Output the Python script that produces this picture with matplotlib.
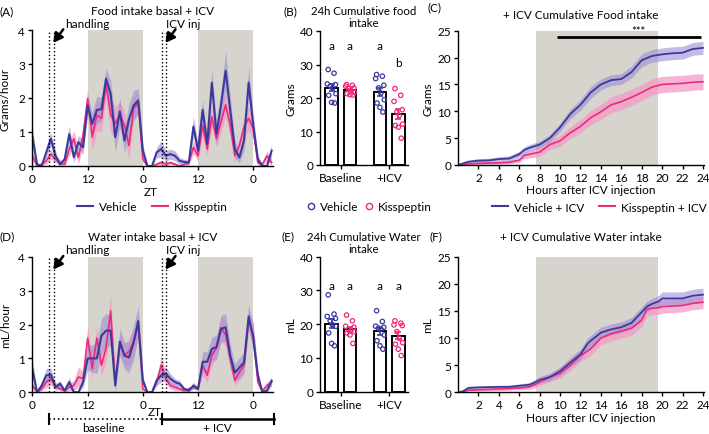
import matplotlib
matplotlib.use('Agg')
import matplotlib.pyplot as plt
import matplotlib.transforms as mtransforms
from matplotlib.lines import Line2D
import numpy as np

plt.rcParams['font.family'] = ['Lato', 'DejaVu Sans']

BLUE = '#3b3a9c'
PINK = '#ee2a7b'
BLUE_BAND = '#9c8fd4'
PINK_BAND = '#f49ac6'
GRAY = '#d6d4cc'

# ---- hourly intake (A, D) ----
hours = np.arange(53)
zt_ticks = [0, 12, 24, 36, 48]
zt_labels = ['0', '12', '0', '12', '0']

veh_food = [0.85, 0.05, 0.0, 0.4, 0.8, 0.3, 0.05, 0.2, 0.94, 0.26, 0.7, 0.55,
            1.78, 1.24, 1.65, 1.67, 2.57, 2.12, 0.85, 1.6, 0.75, 1.38, 1.78, 1.93,
            0.45, 0.0, 0.0, 0.4, 0.5, 0.3, 0.35, 0.3, 0.15, 0.12, 0.1, 1.16,
            0.45, 1.65, 0.65, 2.45, 0.95, 1.8, 2.8, 1.65, 0.5, 0.25, 0.75, 2.45,
            1.2, 0.2, 0.0, 0.0, 0.45]
veh_food_sem = [0.3, 0.05, 0.02, 0.15, 0.2, 0.15, 0.05, 0.1, 0.25, 0.15, 0.2, 0.2,
                0.3, 0.35, 0.4, 0.35, 0.3, 0.4, 0.45, 0.4, 0.35, 0.45, 0.45, 0.35,
                0.2, 0.02, 0.02, 0.15, 0.25, 0.15, 0.15, 0.15, 0.1, 0.08, 0.08, 0.3,
                0.2, 0.3, 0.25, 0.4, 0.35, 0.4, 0.6, 0.4, 0.25, 0.15, 0.3, 0.45,
                0.35, 0.15, 0.02, 0.05, 0.2]
kis_food = [0.3, 0.0, 0.05, 0.15, 0.35, 0.2, 0.1, 0.05, 0.5, 0.8, 0.25, 0.9,
            1.98, 0.85, 1.5, 1.4, 2.4, 1.5, 1.25, 1.5, 1.2, 0.6, 1.7, 1.85,
            0.2, 0.0, 0.0, 0.05, 0.1, 0.05, 0.1, 0.05, 0.0, 0.05, 0.1, 0.55,
            0.3, 1.2, 0.5, 1.45, 0.8, 1.3, 1.8, 1.2, 0.3, 0.6, 1.15, 1.4,
            1.1, 0.1, 0.05, 0.3, 0.1]
kis_food_sem = [0.15, 0.05, 0.05, 0.1, 0.15, 0.1, 0.1, 0.05, 0.2, 0.25, 0.2, 0.3,
                0.3, 0.4, 0.45, 0.4, 0.4, 0.5, 0.5, 0.4, 0.4, 0.4, 0.35, 0.3,
                0.1, 0.02, 0.02, 0.05, 0.08, 0.05, 0.05, 0.05, 0.02, 0.05, 0.05, 0.2,
                0.15, 0.3, 0.2, 0.3, 0.25, 0.3, 0.35, 0.3, 0.2, 0.2, 0.3, 0.35,
                0.3, 0.1, 0.05, 0.15, 0.1]

veh_water = [0.67, 0.0, 0.2, 0.5, 0.52, 0.15, 0.25, 0.05, 0.3, 0.0, 0.0, 0.3,
             1.0, 1.0, 1.0, 1.67, 1.82, 1.82, 0.2, 1.5, 1.08, 1.03, 1.47, 2.1,
             0.35, 0.0, 0.0, 0.35, 0.5, 0.55, 0.4, 0.3, 0.25, 0.1, 0.05, 0.2,
             0.1, 0.9, 0.9, 1.28, 1.33, 1.87, 1.92, 1.08, 0.58, 0.73, 0.88, 2.24,
             1.62, 0.5, 0.0, 0.05, 0.34]
veh_water_sem = [0.3, 0.05, 0.1, 0.2, 0.2, 0.1, 0.1, 0.05, 0.15, 0.05, 0.05, 0.15,
                 0.35, 0.4, 0.45, 0.5, 0.5, 0.45, 0.2, 0.4, 0.4, 0.45, 0.5, 0.45,
                 0.15, 0.02, 0.02, 0.15, 0.2, 0.2, 0.15, 0.1, 0.1, 0.05, 0.05, 0.1,
                 0.05, 0.3, 0.3, 0.35, 0.35, 0.4, 0.4, 0.35, 0.25, 0.3, 0.3, 0.35,
                 0.4, 0.2, 0.02, 0.05, 0.15]
kis_water = [0.2, 0.0, 0.1, 0.3, 0.4, 0.2, 0.1, 0.05, 0.15, 0.2, 0.45, 0.4,
             1.6, 0.7, 1.6, 0.8, 1.3, 2.4, 0.3, 1.4, 1.1, 1.2, 1.5, 2.0,
             0.1, 0.0, 0.0, 0.3, 0.8, 0.4, 0.2, 0.15, 0.1, 0.05, 0.1, 0.15,
             0.1, 0.8, 0.5, 1.1, 1.3, 1.9, 1.7, 1.0, 0.35, 0.6, 0.8, 2.1,
             1.7, 0.3, 0.05, 0.2, 0.3]
kis_water_sem = [0.1, 0.02, 0.05, 0.15, 0.2, 0.1, 0.05, 0.05, 0.1, 0.15, 0.3, 0.2,
                 0.35, 0.3, 0.35, 0.3, 0.4, 0.5, 0.15, 0.35, 0.3, 0.4, 0.4, 0.4,
                 0.05, 0.02, 0.02, 0.1, 0.3, 0.15, 0.1, 0.1, 0.05, 0.05, 0.05, 0.05,
                 0.05, 0.3, 0.2, 0.3, 0.3, 0.35, 0.35, 0.3, 0.15, 0.25, 0.25, 0.3,
                 0.35, 0.15, 0.05, 0.1, 0.1]

handling_lines = [3.7, 4.75]
icv_lines = [28.2, 29.1]
dark_phases = [(12, 24), (36, 48)]

# ---- 24h cumulative per animal (B, E) ----
groups = ['Baseline', '+ICV']
food_veh_base = [28.5, 27.4, 24.2, 24.0, 23.5, 23.0, 21.3, 20.8, 18.7, 18.5]
food_kis_base = [24.0, 23.8, 23.5, 23.0, 22.8, 22.0, 21.7, 21.3, 21.0, 20.9]
food_veh_icv = [27.0, 26.5, 25.8, 23.8, 23.0, 21.5, 19.5, 18.5, 17.2, 15.8]
food_kis_icv = [22.8, 20.8, 19.0, 16.5, 15.8, 14.8, 12.2, 11.8, 11.3, 8.0]
food_letters = ['a', 'a', 'a', 'b']
food_letter_y = [35.7, 35.7, 35.7, 30.5]

water_veh_base = [28.7, 23.0, 22.3, 21.7, 21.0, 19.8, 19.4, 17.4, 14.3, 13.6]
water_kis_base = [22.7, 21.0, 19.4, 19.1, 18.4, 18.1, 17.8, 17.4, 16.8, 14.3]
water_veh_icv = [24.0, 20.8, 19.4, 19.1, 18.8, 18.5, 16.8, 15.1, 13.6, 12.6]
water_kis_icv = [21.0, 20.3, 19.8, 19.6, 17.8, 15.8, 14.5, 14.1, 12.6, 10.7]
water_letters = ['a', 'a', 'a', 'a']
water_letter_y = [31.6, 31.6, 31.6, 31.6]

# ---- cumulative after ICV (C, F) ----
t_food = [0, 0.5, 1, 2, 3, 4, 5, 6, 6.5, 7, 8, 9, 10, 11, 12, 13, 14, 15, 16, 17,
          18, 19, 20, 21, 22, 23, 24]
veh_cum_food = [0, 0.3, 0.6, 0.8, 0.85, 1.1, 1.2, 2.0, 2.8, 3.2, 3.8, 5.0, 7.0, 9.5,
                11.2, 13.5, 15.0, 15.8, 16.0, 17.3, 19.5, 20.3, 20.6, 20.8, 20.9, 21.6, 21.8]
veh_cum_food_sem = [0, 0.2, 0.3, 0.4, 0.4, 0.45, 0.5, 0.55, 0.6, 0.6, 0.65, 0.7, 0.8, 0.9,
                    1.0, 1.1, 1.0, 1.0, 1.0, 1.1, 1.2, 1.2, 1.2, 1.2, 1.2, 1.2, 1.2]
kis_cum_food = [0, 0.1, 0.2, 0.3, 0.35, 0.4, 0.5, 0.9, 1.8, 2.0, 2.4, 3.8, 4.5, 6.0,
                7.2, 8.8, 9.9, 11.2, 11.8, 12.6, 13.5, 14.5, 15.0, 15.1, 15.2, 15.4, 15.5]
kis_cum_food_sem = [0, 0.1, 0.15, 0.2, 0.2, 0.25, 0.3, 0.4, 0.6, 0.7, 0.8, 0.9, 1.0, 1.1,
                    1.2, 1.3, 1.4, 1.5, 1.5, 1.5, 1.5, 1.5, 1.5, 1.5, 1.5, 1.5, 1.5]

t_water = [0, 0.5, 1, 2, 4, 5, 6, 7, 7.5, 8, 9, 10, 11, 12, 12.7, 13, 14, 15, 16, 17,
           18, 18.5, 19, 19.7, 20, 21, 22, 23, 24]
veh_cum_water = [0, 0.2, 0.8, 0.9, 1.0, 1.0, 1.2, 1.4, 1.8, 2.3, 2.8, 3.9, 5.5, 7.0, 9.0,
                 9.5, 11.0, 11.6, 12.0, 12.8, 14.8, 15.8, 16.3, 16.8, 17.3, 17.3, 17.3, 17.8, 18.0]
veh_cum_water_sem = [0, 0.1, 0.3, 0.3, 0.3, 0.3, 0.35, 0.4, 0.5, 0.6, 0.7, 0.8, 0.9, 1.0, 1.0,
                     1.0, 1.0, 1.0, 1.0, 1.0, 1.0, 1.0, 1.0, 1.1, 1.2, 1.2, 1.2, 1.2, 1.2]
kis_cum_water = [0, 0.1, 0.4, 0.45, 0.6, 0.7, 0.8, 1.0, 1.4, 1.9, 2.8, 3.5, 5.0, 6.8, 7.6,
                 8.0, 10.0, 10.8, 11.3, 11.8, 13.3, 15.3, 15.5, 15.6, 15.8, 15.9, 16.0, 16.4, 16.6]
kis_cum_water_sem = [0, 0.1, 0.2, 0.2, 0.3, 0.3, 0.35, 0.5, 0.6, 0.7, 0.8, 0.9, 1.0, 1.1, 1.2,
                     1.2, 1.3, 1.3, 1.3, 1.3, 1.3, 1.3, 1.2, 1.2, 1.2, 1.2, 1.2, 1.2, 1.2]
dark_after_icv = (7.6, 19.6)
sig_span = (9.7, 23.8)

FS = 8.5
W, H = 709, 435
fig = plt.figure(figsize=(W / 100, H / 100), dpi=100)


def px_axes(l, t, r, b):
    return fig.add_axes([l / W, 1 - b / H, (r - l) / W, (b - t) / H])


def ftext(x, y, s, **kw):
    fig.text(x / W, 1 - y / H, s, va='center', **kw)


def style(ax):
    for s in ['top', 'right']:
        ax.spines[s].set_visible(False)
    for s in ['left', 'bottom']:
        ax.spines[s].set_linewidth(1.0)
    ax.tick_params(direction='out', length=3, width=1.0, labelsize=8.5, pad=2)


def band(ax, x, y, e, col, alpha):
    y = np.asarray(y)
    e = np.asarray(e)
    ax.fill_between(x, np.clip(y - e, 0, None), y + e, color=col, alpha=alpha, lw=0)


def hourly(ax, veh, veh_sem, kis, kis_sem, ylab):
    for a, b in dark_phases:
        ax.axvspan(a, b, color=GRAY, lw=0, zorder=0)
    band(ax, hours, kis, kis_sem, PINK_BAND, 0.75)
    band(ax, hours, veh, veh_sem, BLUE_BAND, 0.6)
    ax.plot(hours, kis, color=PINK, lw=1.2)
    ax.plot(hours, veh, color=BLUE, lw=1.5)
    for x in handling_lines + icv_lines:
        ax.axvline(x, color='black', ls=':', lw=1.0)
    ax.set_xlim(-0.1, 52.3)
    ax.set_ylim(0, 4)
    ax.set_xticks(zt_ticks)
    ax.set_xticklabels(zt_labels)
    ax.set_yticks([0, 1, 2, 3, 4])
    ax.set_ylabel(ylab, fontsize=FS)
    ax.yaxis.set_label_coords(-0.088, 0.5)
    style(ax)
    arrow = dict(arrowstyle='-|>,head_length=0.55,head_width=0.3', color='black', lw=1.8,
                 mutation_scale=10, shrinkA=0, shrinkB=0)
    ax.annotate('', xy=(4.5, 3.62), xytext=(6.7, 4.02), arrowprops=arrow, annotation_clip=False)
    ax.annotate('', xy=(28.9, 3.62), xytext=(31.1, 4.02), arrowprops=arrow, annotation_clip=False)
    ax.text(7.0, 4.2, 'handling', fontsize=FS, va='center', clip_on=False)
    ax.text(29.1, 4.2, 'ICV inj', fontsize=FS, va='center', clip_on=False)


def bars(ax, data, letters, letter_y, ylab):
    offsets = [-0.19, 0.19]
    jitter = [-0.07, 0.05, -0.09, 0.08, -0.03, 0.02, 0.09, -0.06, 0.0, 0.06]
    cols = [BLUE, PINK]
    for gi in range(2):
        for si in range(2):
            vals = np.asarray(data[gi][si])
            x = gi + offsets[si]
            m = vals.mean()
            sem = vals.std(ddof=1) / np.sqrt(len(vals))
            ax.bar(x, m, width=0.26, facecolor='white', edgecolor='black', lw=1.4, zorder=1)
            ax.scatter(x + np.asarray(jitter), vals, s=10, facecolors='none',
                       edgecolors=cols[si], linewidths=0.9, zorder=2)
            ax.errorbar(x, m, yerr=sem, color=cols[si], capsize=2, lw=1.2, capthick=1.2, zorder=3)
            k = gi * 2 + si
            ax.text(x, letter_y[k], letters[k], ha='center', va='center', fontsize=FS)
    ax.set_xlim(-0.43, 1.39)
    ax.set_ylim(0, 40)
    ax.set_yticks([0, 10, 20, 30, 40])
    ax.set_xticks([0, 1])
    ax.set_xticklabels(groups)
    ax.set_ylabel(ylab, fontsize=FS)
    ax.yaxis.set_label_coords(-0.27, 0.5)
    style(ax)


def cumulative(ax, t, veh, veh_sem, kis, kis_sem, ylab):
    ax.axvspan(*dark_after_icv, color=GRAY, lw=0, zorder=0)
    band(ax, t, kis, kis_sem, PINK_BAND, 0.75)
    band(ax, t, veh, veh_sem, BLUE_BAND, 0.6)
    ax.plot(t, kis, color=PINK, lw=1.2)
    ax.plot(t, veh, color=BLUE, lw=1.3)
    ax.set_xlim(0, 24.1)
    ax.set_ylim(0, 25)
    ax.set_xticks(range(2, 25, 2))
    ax.set_yticks([0, 5, 10, 15, 20, 25])
    ax.set_xlabel('Hours after ICV injection', fontsize=FS, labelpad=1)
    ax.xaxis.label.set_x(0.54)
    ax.set_ylabel(ylab, fontsize=FS)
    ax.yaxis.set_label_coords(-0.1, 0.5)
    style(ax)


def line_legend(ax, labels, anchor):
    ax.legend(handles=[Line2D([], [], color=BLUE, lw=1.5), Line2D([], [], color=PINK, lw=1.5)],
              labels=labels, loc='center', bbox_to_anchor=anchor, ncol=2, frameon=False,
              fontsize=FS, handlelength=1.4, handletextpad=0.5, columnspacing=1.2)


# ---- A ----
axA = px_axes(32, 31, 273, 167)
hourly(axA, veh_food, veh_food_sem, kis_food, kis_food_sem, 'Grams/hour')
axA.text(0.494, -0.19, 'ZT', transform=axA.transAxes, ha='center', va='center', fontsize=FS)
axA.text(0.5, 1.14, 'Food intake basal + ICV', transform=axA.transAxes, ha='center',
         va='center', fontsize=FS)
line_legend(axA, ['Vehicle', 'Kisspeptin'], (0.5, -0.30))

# ---- D ----
axD = px_axes(32, 257.7, 273, 393.3)
hourly(axD, veh_water, veh_water_sem, kis_water, kis_water_sem, 'mL/hour')
axD.text(0.51, -0.14, 'ZT', transform=axD.transAxes, ha='center', va='center', fontsize=FS)
axD.text(0.5, 1.15, 'Water intake basal + ICV', transform=axD.transAxes, ha='center',
         va='center', fontsize=FS)
tr = mtransforms.blended_transform_factory(axD.transData, axD.transAxes)
yb = -0.197
axD.plot([handling_lines[0], icv_lines[0]], [yb, yb], ls=':', color='black', lw=1.2,
         transform=tr, clip_on=False)
axD.plot([icv_lines[0], 52.5], [yb, yb], color='black', lw=1.8, transform=tr, clip_on=False)
for x in [handling_lines[0], icv_lines[0], 52.5]:
    axD.plot([x, x], [yb - 0.04, yb + 0.04], color='black', lw=1.5, transform=tr, clip_on=False)
axD.text(15.4, -0.26, 'baseline', transform=tr, ha='center', va='center', fontsize=FS)
axD.text(40.2, -0.26, '+ ICV', transform=tr, ha='center', va='center', fontsize=FS)

# ---- B ----
axB = px_axes(320, 32, 408, 166)
bars(axB, [[food_veh_base, food_kis_base], [food_veh_icv, food_kis_icv]],
     food_letters, food_letter_y, 'Grams')
axB.text(0.5, 1.105, '24h Cumulative food\nintake', transform=axB.transAxes, ha='center',
         va='center', fontsize=8.2, linespacing=1.1)
axB.legend(handles=[Line2D([], [], ls='', marker='o', mfc='none', mec=BLUE, ms=4.5),
                    Line2D([], [], ls='', marker='o', mfc='none', mec=PINK, ms=4.5)],
           labels=['Vehicle', 'Kisspeptin'], loc='center', bbox_to_anchor=(0.56, -0.313),
           ncol=2, frameon=False, fontsize=FS, handlelength=0.7, handletextpad=0.4,
           columnspacing=0.6)

# ---- E ----
axE = px_axes(320, 257.7, 408, 392.7)
bars(axE, [[water_veh_base, water_kis_base], [water_veh_icv, water_kis_icv]],
     water_letters, water_letter_y, 'mL')
axE.text(0.5, 1.105, '24h Cumulative Water\nintake', transform=axE.transAxes, ha='center',
         va='center', fontsize=8.2, linespacing=1.1)

# ---- C ----
axC = px_axes(458, 31.7, 704, 166)
cumulative(axC, t_food, veh_cum_food, veh_cum_food_sem, kis_cum_food, kis_cum_food_sem, 'Grams')
axC.plot(sig_span, [23.9, 23.9], color='black', lw=2, solid_capstyle='butt')
axC.text(17.7, 24.0, '***', ha='center', va='bottom', fontsize=8, clip_on=False)
axC.text(0.5, 1.12, '+ ICV Cumulative Food intake', transform=axC.transAxes, ha='center',
         va='center', fontsize=FS)
line_legend(axC, ['Vehicle + ICV', 'Kisspeptin + ICV'], (0.575, -0.313))

# ---- F ----
axF = px_axes(458, 257.7, 704, 393.3)
cumulative(axF, t_water, veh_cum_water, veh_cum_water_sem, kis_cum_water, kis_cum_water_sem, 'mL')
axF.text(0.5, 1.15, '+ ICV Cumulative Water intake', transform=axF.transAxes, ha='center',
         va='center', fontsize=FS)

# panel letters
ftext(0, 12, '(A)', fontsize=FS)
ftext(283, 12, '(B)', fontsize=FS)
ftext(428, 8, '(C)', fontsize=FS)
ftext(0, 237, '(D)', fontsize=FS)
ftext(282, 237, '(E)', fontsize=FS)
ftext(430, 237, '(F)', fontsize=FS)

fig.savefig('out.png', dpi=100, facecolor='white')
